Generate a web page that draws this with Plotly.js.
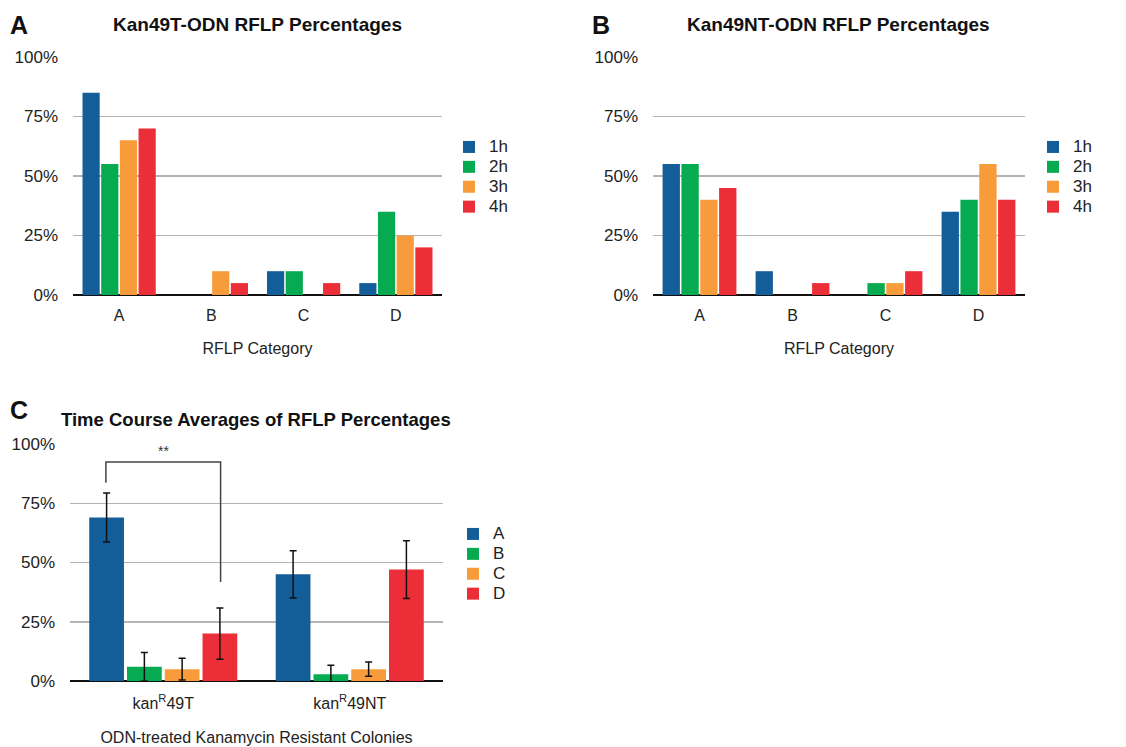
<!DOCTYPE html>
<html>
<head>
<meta charset="utf-8">
<script src="https://cdn.plot.ly/plotly-3.0.1.min.js"></script>
<style>html,body{margin:0;padding:0;background:#fff;}#chart{width:1126px;height:747px;}</style>
</head>
<body>
<div id="chart"></div>
<script>
// ---- Data ----
const rflpCategories = ['A', 'B', 'C', 'D'];
const timePoints = ['1h', '2h', '3h', '4h'];
// Panel A: Kan49T-ODN (percent), one array per time point over categories A-D
const kan49T_1h = [85, 0, 10, 5];
const kan49T_2h = [55, 0, 10, 35];
const kan49T_3h = [65, 10, 0, 25];
const kan49T_4h = [70, 5, 5, 20];
// Panel B: Kan49NT-ODN
const kan49NT_1h = [55, 10, 0, 35];
const kan49NT_2h = [55, 0, 5, 40];
const kan49NT_3h = [40, 0, 5, 55];
const kan49NT_4h = [45, 5, 10, 40];
// Panel C: time course averages, per RFLP category over colony groups
const colonyGroups = ['kan<sup>R</sup>49T', 'kan<sup>R</sup>49NT'];
const avgA = [69, 45];
const avgB = [6, 2.9];
const avgC = [5, 5];
const avgD = [20, 47];
const errA = [10.3, 10];
const errB = [6, 3.7];
const errC = [4.6, 3];
const errD = [10.8, 12.2];
const yTickVals = [0, 25, 50, 75, 100];
const yTickText = ['0%', '25%', '50%', '75%', '100%'];

// ---- Styles ----
const colors = ['#135d99', '#06ab51', '#f89b3b', '#ec2e38'];
const FONT = 'Liberation Sans, Arial, Helvetica, sans-serif';
const W = 1126, H = 747;
const px = x => x / W;
const py = y => 1 - y / H;
const legendLabel = s => `<span style="font-size:17px">${s}</span>`;

function barTrace(x, y, name, color, xa, ya, legend, err) {
  const t = {
    type: 'bar', x: x, y: y, name: legendLabel(name), xaxis: xa, yaxis: ya, legend: legend,
    marker: {color: color, line: {width: 0}},
    hoverinfo: 'x+y'
  };
  if (err) {
    t.error_y = {type: 'data', array: err, visible: true, color: '#111', thickness: 1.5, width: 3.5};
  }
  return t;
}

const seriesA = [kan49T_1h, kan49T_2h, kan49T_3h, kan49T_4h];
const seriesB = [kan49NT_1h, kan49NT_2h, kan49NT_3h, kan49NT_4h];
const seriesC = [avgA, avgB, avgC, avgD];
const errorsC = [errA, errB, errC, errD];

const traces = [];
timePoints.forEach((tp, i) => traces.push(barTrace(rflpCategories, seriesA[i], tp, colors[i], 'x', 'y', 'legend')));
timePoints.forEach((tp, i) => traces.push(barTrace(rflpCategories, seriesB[i], tp, colors[i], 'x2', 'y2', 'legend2')));
rflpCategories.forEach((c, i) => traces.push(barTrace(colonyGroups, seriesC[i], c, colors[i], 'x3', 'y3', 'legend3', errorsC[i])));

function yAxis(domain) {
  return {
    domain: domain, range: [0, 100], tickvals: yTickVals, ticktext: yTickText,
    showgrid: true, gridcolor: '#b4b4b4', gridwidth: 1.5,
    zeroline: true, zerolinecolor: '#111', zerolinewidth: 2,
    showline: false, ticks: '', ticklabelstandoff: 14,
    tickfont: {family: FONT, size: 17, color: '#222'}, fixedrange: true
  };
}
function xAxis(domain, anchor, title, standoff, tls) {
  return {
    domain: domain, anchor: anchor, showgrid: false, showline: false, ticks: '',
    ticklabelstandoff: tls,
    tickfont: {family: FONT, size: 16, color: '#222'},
    title: {text: title, font: {family: FONT, size: 16, color: '#222'}, standoff: standoff},
    fixedrange: true
  };
}

const domAy = [py(295), py(57)];
const domCy = [py(681), py(444)];

const legendFont = {family: FONT, size: 13, color: '#222'};
function legend(x, y) {
  return {x: px(x), y: py(y), xanchor: 'left', yanchor: 'top', font: legendFont,
          bgcolor: 'rgba(0,0,0,0)', tracegroupgap: 0, itemwidth: 30};
}

// Significance bracket geometry (category-index units on x3, percent on y3)
const bracket = {left: -0.3075, right: 0.3075, top: 92.4, leftEnd: 83.6, rightEnd: 41.8};

const titleFont = {family: FONT, size: 19, color: '#111', weight: 'bold'};
const letterFont = {family: FONT, size: 25, color: '#111', weight: 'bold'};

const layout = {
  width: W, height: H, margin: {l: 0, r: 0, t: 0, b: 0},
  paper_bgcolor: '#fff', plot_bgcolor: '#fff',
  barmode: 'group',
  showlegend: true,
  font: {family: FONT},
  xaxis: xAxis([px(73), px(442)], 'y', 'RFLP Category', 19, 9),
  yaxis: yAxis(domAy),
  xaxis2: xAxis([px(653), px(1025)], 'y2', 'RFLP Category', 19, 9),
  yaxis2: Object.assign(yAxis(domAy), {anchor: 'x2'}),
  xaxis3: xAxis([px(70), px(443)], 'y3', 'ODN-treated Kanamycin Resistant Colonies', 20, 11),
  yaxis3: Object.assign(yAxis(domCy), {anchor: 'x3'}),
  legend: legend(449, 132),
  legend2: legend(1033, 132),
  legend3: legend(453, 519),
  bargap: 0.19, bargroupgap: 0.08,
  annotations: [
    {text: 'A', xref: 'paper', yref: 'paper', x: px(8), y: py(25), xanchor: 'left', yanchor: 'middle', showarrow: false, font: letterFont},
    {text: 'B', xref: 'paper', yref: 'paper', x: px(590), y: py(25), xanchor: 'left', yanchor: 'middle', showarrow: false, font: letterFont},
    {text: 'C', xref: 'paper', yref: 'paper', x: px(8), y: py(410), xanchor: 'left', yanchor: 'middle', showarrow: false, font: letterFont},
    {text: 'Kan49T-ODN RFLP Percentages', xref: 'paper', yref: 'paper', x: px(257), y: py(25), xanchor: 'center', yanchor: 'middle', showarrow: false, font: titleFont},
    {text: 'Kan49NT-ODN RFLP Percentages', xref: 'paper', yref: 'paper', x: px(838), y: py(25), xanchor: 'center', yanchor: 'middle', showarrow: false, font: titleFont},
    {text: 'Time Course Averages of RFLP Percentages', xref: 'paper', yref: 'paper', x: px(256), y: py(419), xanchor: 'center', yanchor: 'middle', showarrow: false, font: Object.assign({}, titleFont, {size: 18.5})},
    {text: '**', xref: 'x3', yref: 'y3', x: 0, y: 97, xanchor: 'center', yanchor: 'middle', showarrow: false, font: {family: FONT, size: 14, color: '#333'}}
  ],
  shapes: [
    {type: 'path', xref: 'x3', yref: 'y3',
     path: `M ${bracket.left} ${bracket.leftEnd} L ${bracket.left} ${bracket.top} L ${bracket.right} ${bracket.top} L ${bracket.right} ${bracket.rightEnd}`,
     line: {color: '#444', width: 1.5}}
  ]
};

Plotly.newPlot('chart', traces, layout, {staticPlot: true, displayModeBar: false});
</script>
</body>
</html>
